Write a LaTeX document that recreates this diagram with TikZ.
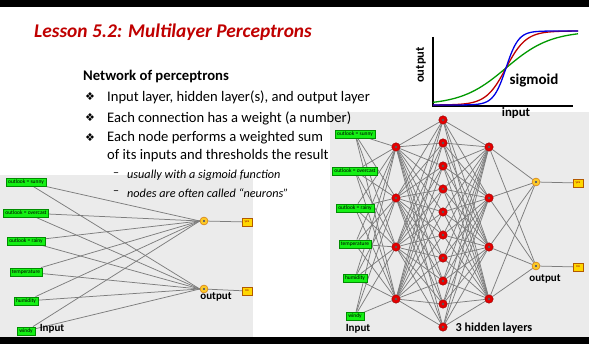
\documentclass[tikz,border=0pt]{standalone}
\usepackage{fontspec}
\setmainfont{Carlito}
\newfontfamily\symfont{DejaVu Sans}
\usetikzlibrary{positioning, calc, backgrounds}
\usepackage{xcolor}

\definecolor{titlered}{RGB}{192,0,0}
\definecolor{panelgray}{RGB}{235,235,235}
\definecolor{inputgreen}{RGB}{20,240,20}
\definecolor{outyellow}{RGB}{250,200,40}
\definecolor{resyellow}{RGB}{255,215,0}
\definecolor{edgegray}{RGB}{125,125,125}

\tikzset{
  inbox/.style={draw=green!55!black, line width=0.3pt, fill=inputgreen, inner xsep=2pt, inner ysep=0pt,
    minimum height=8.5pt, font=\fontsize{5.5}{6}\selectfont},
  hid/.style={circle, draw=red!55!black, fill=red!90!black, minimum size=8.5pt, inner sep=0pt,
    path picture={\fill[black!65] (path picture bounding box.center) circle (1.3pt);}},
  outnode/.style={circle, draw=orange!80!black, fill=outyellow, minimum size=8pt, inner sep=0pt,
    path picture={\fill[black!60] ($(path picture bounding box.center)+(-1.4pt,-1.4pt)$) rectangle +(2.8pt,2.8pt);}},
  resbox/.style={draw=orange!70!black, line width=0.3pt, fill=resyellow, minimum width=10pt, minimum height=8pt,
    inner sep=0.5pt, font=\fontsize{3.5}{4}\selectfont, text=red!60!black},
  edge/.style={draw=edgegray, line width=0.75pt},
  lbl/.style={font=\fontsize{11}{13}\selectfont\bfseries, inner sep=0pt},
  txt/.style={anchor=west, inner sep=0pt, font=\fontsize{14.6}{17}\selectfont}
}

\begin{document}
\begin{tikzpicture}[x=1pt, y=-1pt]
  \useasboundingbox (0,0) rectangle (589,344);
  \fill[black] (0,0) rectangle (589,7);
  \fill[black] (0,337) rectangle (589,344);

  % title and bullets
  \node[anchor=west, inner sep=0pt, text=titlered, font=\fontsize{19.4}{22}\selectfont\bfseries\itshape] (title) at (34,32) {Lesson 5.2: Multilayer Perceptrons};
  \node[txt, font=\fontsize{14.7}{17}\selectfont\bfseries] (head) at (83,77) {Network of perceptrons};
  \foreach \n/\y/\t in {1/97/{Input layer, hidden layer(s), and output layer}, 2/118/{Each connection has a weight (a number)}, 3/138/{Each node performs a weighted sum}} {
    \node[txt, font=\fontsize{11}{12}\symfont] (sym\n) at (85,\y) {❖};
    \node[txt] (item\n) at (107,\y) {\t};
  }
  \node[txt] (item4) at (107,156) {of its inputs and thresholds the result};
  \node[txt, font=\fontsize{12}{14}\selectfont] (dash1) at (113,175) {--};
  \node[txt, font=\fontsize{12.2}{14}\selectfont\itshape] (sub1) at (127,175) {usually with a sigmoid function};
  \node[txt, font=\fontsize{12}{14}\selectfont] (dash2) at (113,193) {--};
  \node[txt, font=\fontsize{12.2}{14}\selectfont\itshape] (sub2) at (127,193) {nodes are often called “neurons”};

  % sigmoid plot
  \draw[line width=1.6pt] (433,37) -- (433,106) -- (573,106);
  \draw[green!60!black, line width=1.3pt] plot[domain=-73:72, samples=90] ({506+\x}, {105-74/(1+exp(-max(-9,min(9,0.045*\x))))});
  \draw[red!75!black, line width=1.3pt] plot[domain=-73:72, samples=90] ({506+\x}, {105-74/(1+exp(-max(-9,min(9,0.1*\x))))});
  \draw[blue!90!black, line width=1.3pt] plot[domain=-73:72, samples=90] ({506+\x}, {105-74/(1+exp(-max(-9,min(9,0.16*\x))))});
  \node[lbl, rotate=90, font=\fontsize{12.5}{14}\selectfont\bfseries] (yaxis) at (421,65) {output};
  \node[lbl, font=\fontsize{12.8}{14}\selectfont\bfseries] (xaxis) at (516,113) {input};
  \node[lbl, font=\fontsize{15}{17}\selectfont\bfseries] (sig) at (534,81) {sigmoid};

  % left network
  \foreach \n/\y/\t in {1/182/outlook = sunny, 2/213/outlook = overcast, 3/241/outlook = rainy, 4/272/temperature, 5/301/humidity, 6/331/windy}
    \node[inbox] (lin\n) at (26,\y) {\t};
  \node[outnode] (lout1) at (204,221) {};
  \node[outnode] (lout2) at (204,289) {};
  \node[resbox] (lres1) at (247,222) {yes};
  \node[resbox] (lres2) at (247,291) {no};
  \node[lbl] (loutlbl) at (216,297) {output};
  \node[lbl] (linlbl) at (52,329) {Input};

  % right network
  \foreach \n/\y/\t in {1/134/outlook = sunny, 2/171/outlook = overcast, 3/208/outlook = rainy, 4/244/temperature, 5/278/humidity, 6/316/windy}
    \node[inbox] (rin\n) at (355,\y) {\t};
  \foreach \i/\y in {1/147, 2/198, 3/247, 4/299} {
    \node[hid] (ha\i) at (396,\y) {};
    \node[hid] (hc\i) at (489,\y) {};
  }
  \foreach \i in {1,...,10}
    \node[hid] (hb\i) at (443,{120+23*(\i-1)}) {};
  \node[outnode] (rout1) at (536,182) {};
  \node[outnode] (rout2) at (536,266) {};
  \node[resbox] (rres1) at (578,183) {yes};
  \node[resbox] (rres2) at (578,267) {no};
  \node[lbl] (routlbl) at (545,279) {output};
  \node[lbl] (rinlbl) at (358,329) {Input};
  \node[lbl, font=\fontsize{12.2}{14}\selectfont\bfseries] (hidlbl) at (494,328) {3 hidden layers};

  \begin{scope}[on background layer]
    \fill[white] (0,7) rectangle (589,337);
    \fill[panelgray] (0,175) rectangle (253,337);
    \fill[panelgray] (330,112) rectangle (589,337);
    \foreach \a in {1,...,6}
      \foreach \b in {1,2}
        \draw[edge] (lin\a) -- (lout\b.west);
    \draw[edge] (lout1) -- (lres1);
    \draw[edge] (lout2) -- (lres2);
    \foreach \a in {1,...,6}
      \foreach \b in {1,...,4}
        \draw[edge] (rin\a) -- (ha\b);
    \foreach \a in {1,...,4}
      \foreach \b in {1,...,10}
        \draw[edge] (ha\a) -- (hb\b) (hb\b) -- (hc\a);
    \foreach \a in {1,...,4}
      \foreach \b in {1,2}
        \draw[edge] (hc\a) -- (rout\b);
    \draw[edge] (rout1) -- (rres1);
    \draw[edge] (rout2) -- (rres2);
  \end{scope}
\end{tikzpicture}
\end{document}
